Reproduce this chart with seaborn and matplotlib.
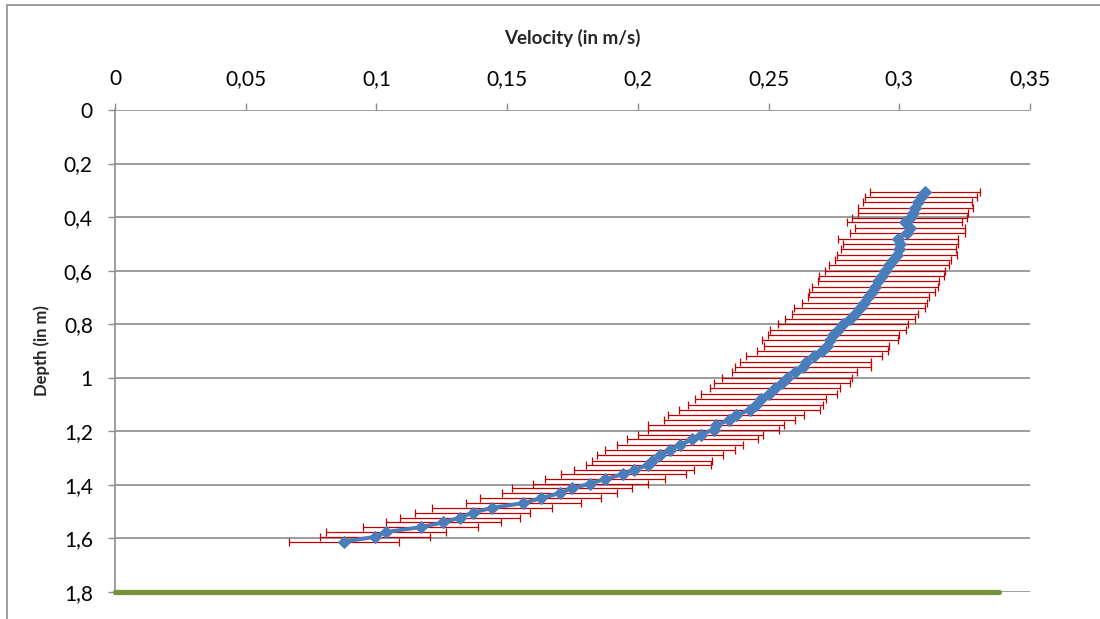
import matplotlib
matplotlib.use("Agg")
import matplotlib.pyplot as plt
from matplotlib.lines import Line2D
import seaborn as sns
import numpy as np

# ---- data ----
depth = [0.305, 0.325, 0.345, 0.365, 0.385, 0.405, 0.420, 0.440, 0.460, 0.480,
         0.500, 0.520, 0.540, 0.560, 0.580, 0.600, 0.620, 0.640, 0.660, 0.680,
         0.700, 0.720, 0.740, 0.760, 0.780, 0.800, 0.820, 0.840, 0.860, 0.880,
         0.900, 0.920, 0.940, 0.960, 0.980, 1.000, 1.020, 1.040, 1.060, 1.080,
         1.100, 1.120, 1.140, 1.158, 1.176, 1.194, 1.212, 1.230, 1.250, 1.270,
         1.290, 1.310, 1.326, 1.343, 1.360, 1.378, 1.395, 1.413, 1.431, 1.450,
         1.468, 1.486, 1.504, 1.522, 1.540, 1.558, 1.576, 1.594, 1.612]
velocity = [0.3099, 0.3082, 0.3070, 0.3061, 0.3052, 0.3040, 0.3020, 0.3040, 0.3030, 0.2995,
            0.3003, 0.2998, 0.2992, 0.2976, 0.2960, 0.2945, 0.2932, 0.2920, 0.2908, 0.2895,
            0.2882, 0.2866, 0.2848, 0.2830, 0.2812, 0.2785, 0.2765, 0.2748, 0.2735, 0.2722,
            0.2705, 0.2672, 0.2642, 0.2630, 0.2600, 0.2570, 0.2550, 0.2525, 0.2500, 0.2470,
            0.2450, 0.2428, 0.2375, 0.2350, 0.2300, 0.2290, 0.2240, 0.2208, 0.2162, 0.2123,
            0.2085, 0.2055, 0.2040, 0.1985, 0.1945, 0.1875, 0.1818, 0.1748, 0.1702, 0.1628,
            0.1562, 0.1441, 0.1368, 0.1320, 0.1256, 0.1169, 0.1037, 0.0995, 0.0876]
error = [0.021, 0.0215, 0.021, 0.022, 0.021, 0.022, 0.022, 0.021, 0.022, 0.023,
         0.022, 0.022, 0.023, 0.022, 0.023, 0.023, 0.024, 0.023, 0.024, 0.024,
         0.023, 0.024, 0.025, 0.024, 0.025, 0.025, 0.026, 0.025, 0.026, 0.024,
         0.025, 0.026, 0.025, 0.026, 0.024, 0.025, 0.026, 0.025, 0.026, 0.025,
         0.026, 0.027, 0.026, 0.025, 0.026, 0.025, 0.024, 0.025, 0.024, 0.025,
         0.024, 0.023, 0.024, 0.023, 0.024, 0.023, 0.022, 0.023, 0.022, 0.023,
         0.022, 0.023, 0.022, 0.023, 0.022, 0.022, 0.023, 0.021, 0.021]
bottom_velocity = [0.0, 0.338]
bottom_depth = [1.8, 1.8]

x_ticks = [0, 0.05, 0.1, 0.15, 0.2, 0.25, 0.3, 0.35]
x_labels = ["0", "0,05", "0,1", "0,15", "0,2", "0,25", "0,3", "0,35"]
y_ticks = [0, 0.2, 0.4, 0.6, 0.8, 1.0, 1.2, 1.4, 1.6, 1.8]
y_labels = ["0", "0,2", "0,4", "0,6", "0,8", "1", "1,2", "1,4", "1,6", "1,8"]

sns.set_theme(style="white")
plt.rcParams['font.family'] = ['Lato', 'DejaVu Sans']

W, H = 1100, 619
fig = plt.figure(figsize=(W / 100, H / 100), dpi=100)
ax = fig.add_axes([115 / W, 1 - 592 / H, (1030 - 115) / W, (592 - 110) / H])

grid_col = '#8c8c8c'

ax.errorbar(velocity, depth, xerr=error, fmt='none', ecolor='#C00000',
            elinewidth=0.9, capsize=2.9, capthick=0.9, zorder=3)

sns.lineplot(x=velocity, y=depth, sort=False, estimator=None, ax=ax,
             color='#4A7EBB', linewidth=2.8, marker='D', markersize=6.5,
             markeredgecolor='#4A7EBB', zorder=4)

sns.lineplot(x=bottom_velocity, y=bottom_depth, sort=False, estimator=None, ax=ax,
             color='#77933C', linewidth=3.8, zorder=5, clip_on=False)

ax.set_xlim(0, 0.35)
ax.set_ylim(1.8, 0)

ax.xaxis.tick_top()
ax.xaxis.set_label_position('top')
ax.set_xticks(x_ticks)
ax.set_xticklabels(x_labels, fontsize=15, color='black')
ax.set_yticks(y_ticks)
ax.set_yticklabels(y_labels, fontsize=15, color='black')

ax.tick_params(axis='x', which='both', top=True, bottom=False, direction='out',
               length=5, width=1, color=grid_col, pad=10)
ax.tick_params(axis='y', which='both', left=True, direction='out',
               length=5, width=1, color=grid_col, pad=11)

ax.set_xlabel("Velocity (in m/s)", fontsize=13.5, fontweight='bold', labelpad=18)
ax.set_ylabel("Depth (in m)", fontsize=12, fontweight='bold', labelpad=10)

ax.yaxis.grid(True, color=grid_col, linewidth=1.2)
ax.xaxis.grid(False)
for s in ['top', 'right', 'bottom']:
    ax.spines[s].set_visible(False)
ax.spines['left'].set_color(grid_col)
ax.spines['left'].set_linewidth(1.2)

# outer chart frame (left and top edges visible)
fig.add_artist(Line2D([7 / W, 7 / W], [0, 1 - 5 / H], transform=fig.transFigure,
                      color='#8c8c8c', linewidth=1.2))
fig.add_artist(Line2D([7 / W, 1], [1 - 5 / H, 1 - 5 / H], transform=fig.transFigure,
                      color='#8c8c8c', linewidth=1.2))

fig.savefig("out.png", dpi=100, facecolor='white')
